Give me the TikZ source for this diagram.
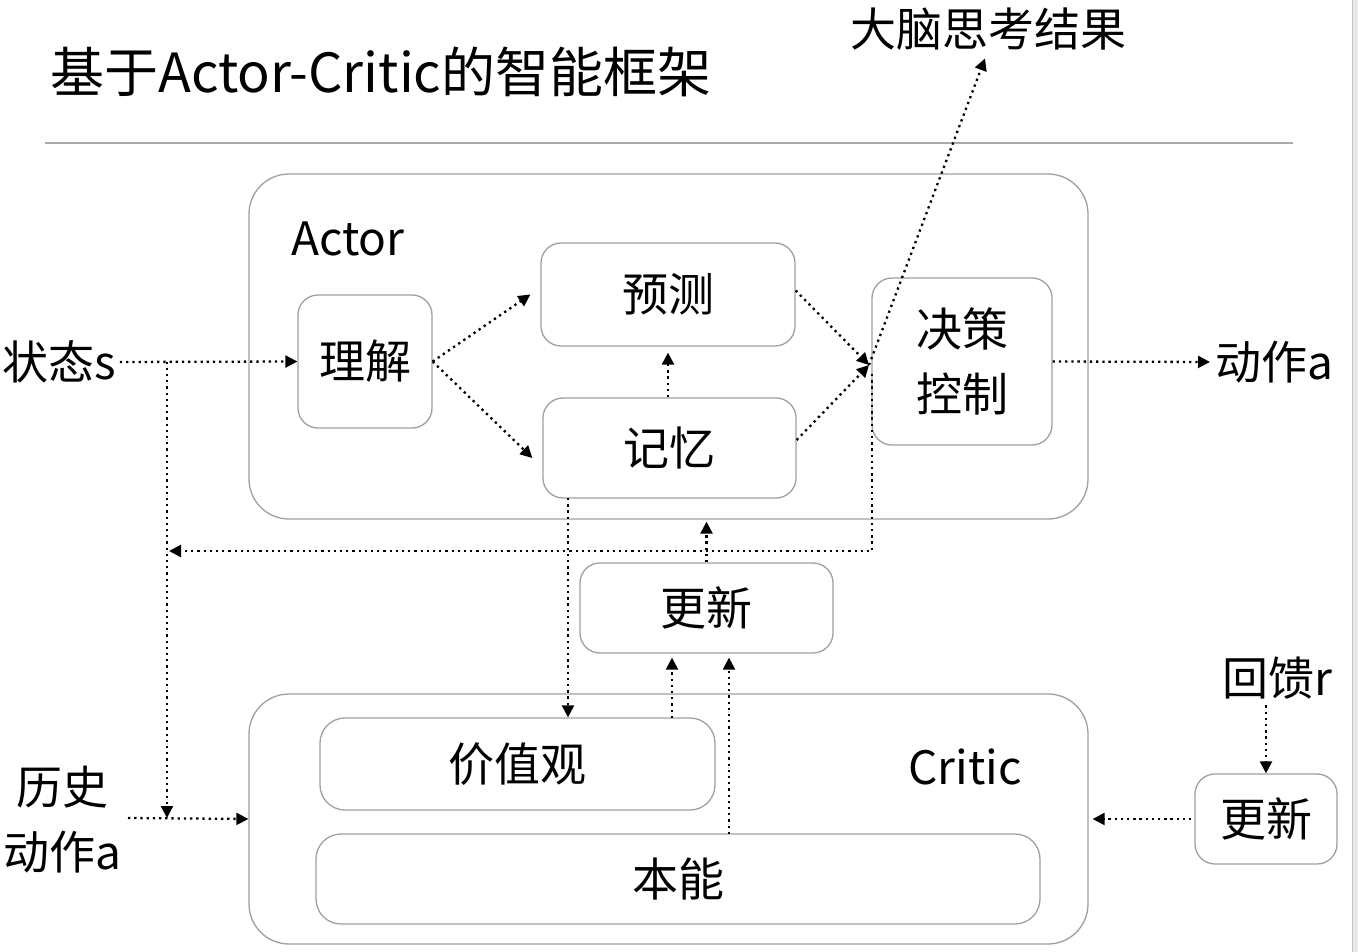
\documentclass[tikz,border=0pt]{standalone}
\usepackage{fontspec}
\setmainfont{Noto Sans CJK SC}
\usetikzlibrary{arrows.meta,calc}
\definecolor{boxgray}{RGB}{160,160,160}
\definecolor{rulegray}{RGB}{170,170,170}
\definecolor{stripgray}{RGB}{232,232,232}
\tikzset{
  rbox/.style={draw=boxgray, line width=1.3pt, rectangle, inner sep=0pt},
  lbl/.style={inner sep=0pt, font=\fontsize{46}{65}\selectfont},
  flow/.style={line width=2.3pt, dash pattern=on 2.3pt off 3.9pt, -{Triangle[length=12pt,width=12pt]}},
}
\begin{document}
\begin{tikzpicture}[x=1pt,y=-1pt]
\useasboundingbox (0,0) rectangle (1358,952);
\fill[white] (0,0) rectangle (1358,952);
% right strip
\fill[stripgray] (1352,0) rectangle (1358,952);
\draw[stripgray!85!black, line width=0.6pt] (1352,0) -- (1352,952);
% title
\node[lbl, anchor=west, font=\fontsize{54}{60}\selectfont] (title) at (50,72) {基于Actor-Critic的智能框架};
\draw[rulegray, line width=1.2pt] (45,143) -- (1293,143);
\node[lbl, font=\fontsize{46}{60}\selectfont] (result) at (988,29) {大脑思考结果};
% big boxes
\node[rbox, rounded corners=40pt, minimum width=839pt, minimum height=345pt] (actor) at (668.5,346.5) {};
\node[rbox, rounded corners=40pt, minimum width=839pt, minimum height=250pt] (critic) at (668.5,819) {};
\node[lbl, anchor=west] (actorlbl) at (291,239) {Actor};
\node[lbl] (criticlbl) at (965,767) {Critic};
% inner boxes
\node[rbox, rounded corners=20pt, minimum width=134pt, minimum height=133pt, font=\fontsize{46}{65}\selectfont] (lijie) at (365,361.5) {理解};
\node[rbox, rounded corners=20pt, minimum width=254pt, minimum height=103pt, font=\fontsize{46}{65}\selectfont] (yuce) at (668,294.5) {预测};
\node[rbox, rounded corners=20pt, minimum width=253pt, minimum height=100pt, font=\fontsize{46}{65}\selectfont] (jiyi) at (669.5,448) {记忆};
\node[rbox, rounded corners=20pt, minimum width=180pt, minimum height=167pt, align=center, font=\fontsize{46}{65}\selectfont] (juece) at (962,361.5) {决策\\控制};
\node[rbox, rounded corners=20pt, minimum width=253pt, minimum height=90pt, font=\fontsize{46}{65}\selectfont] (gx1) at (706.5,608) {更新};
\node[rbox, rounded corners=25pt, minimum width=395pt, minimum height=92pt, font=\fontsize{46}{65}\selectfont] (jiazhi) at (517.5,764) {价值观};
\node[rbox, rounded corners=25pt, minimum width=724pt, minimum height=90pt, font=\fontsize{46}{65}\selectfont] (benneng) at (678,879) {本能};
\node[rbox, rounded corners=20pt, minimum width=142pt, minimum height=90pt, font=\fontsize{46}{65}\selectfont] (gx2) at (1266,819) {更新};
% outside labels
\node[lbl, anchor=west] (states) at (2,362) {状态s};
\node[lbl, anchor=west] (actiona) at (1215,362) {动作a};
\node[lbl, align=center] (hist) at (62,820) {历史\\动作a};
\node[lbl] (fb) at (1277,678) {回馈r};
% coordinates
\coordinate (j1) at (167,361.5);
\coordinate (hj) at (167,818);
\coordinate (hs) at (128,818);
\coordinate (dp) at (869,365);
\coordinate (ds) at (872,374);
\coordinate (j2) at (169,551);
\coordinate (m1) at (568,498);
\coordinate (v1) at (672,718);
\coordinate (v2) at (729,834);
% connectors
\draw[flow, shorten <=4pt] (states.east) -- (lijie.west);
\draw[flow] (j1) -- (hj);
\draw[flow] (hs) -- (critic.west);
\draw[flow] (lijie.east) -- ([xshift=-10pt]yuce.west);
\draw[flow] (lijie.east) -- ([xshift=-10pt,yshift=-10pt]jiyi.west);
\draw[flow] ([yshift=4pt]yuce.east) -- (dp);
\draw[flow] ([yshift=8pt]jiyi.east) -- (dp);
\draw[flow] (dp) -- ([xshift=-3pt,yshift=-8pt]result.south);
\draw[flow, shorten >=6pt] (jiyi.north -| yuce.south) -- (yuce.south);
\draw[flow, shorten >=5pt] (juece.east) -- (actiona.west);
\draw[flow] (ds) -- (ds |- j2) -- (j2);
\draw[flow] (m1) -- (m1 |- jiazhi.north);
\draw[flow, shorten >=2pt] (gx1.north) -- (gx1.north |- actor.south);
\draw[flow, shorten >=4pt] (v1) -- (v1 |- gx1.south);
\draw[flow, shorten >=4pt] (v2) -- (v2 |- gx1.south);
\draw[flow, shorten <=6pt] (fb.south -| gx2.north) -- (gx2.north);
\draw[flow, shorten <=3pt, shorten >=4pt] (gx2.west) -- (critic.east);
\end{tikzpicture}
\end{document}
